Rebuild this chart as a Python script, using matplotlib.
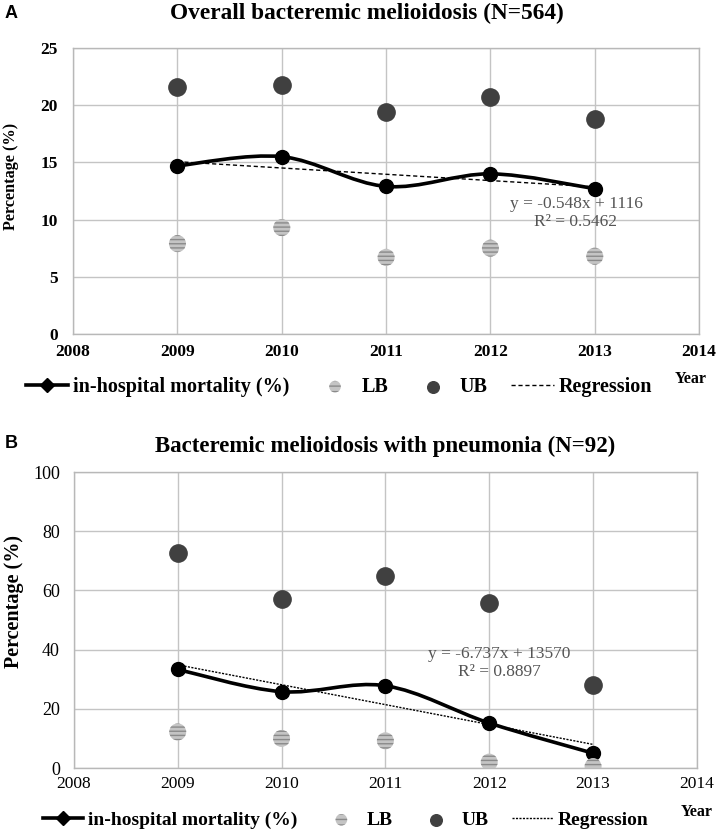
"""Bacteremic melioidosis in-hospital mortality by year, two panels."""

import matplotlib
matplotlib.use("Agg")
import matplotlib.pyplot as plt
import numpy as np
from matplotlib.lines import Line2D
from matplotlib.path import Path
from matplotlib.patches import PathPatch

years = [2009, 2010, 2011, 2012, 2013]

# panel A: overall (N=564)
mort_a = [14.7, 15.5, 12.9, 14.0, 12.7]
lb_a = [7.9, 9.3, 6.7, 7.5, 6.8]
ub_a = [21.6, 21.8, 19.4, 20.7, 18.8]
eq_a = "y = -0.548x + 1116\nR² = 0.5462"

# panel B: with pneumonia (N=92)
mort_b = [33.3, 25.8, 27.8, 15.2, 5.0]
lb_b = [12.2, 10.0, 9.2, 2.0, 0.5]
ub_b = [72.8, 57.0, 65.0, 55.8, 28.0]
eq_b = "y = -6.737x + 13570\nR² = 0.8897"

SERIF = "Liberation Serif"


def smooth_path(x, y):
    """Excel-like smoothed line: cubic Bezier segments through the points."""
    pts = np.column_stack([x, y]).astype(float)
    ext = np.vstack([pts[0], pts, pts[-1]])
    verts = [pts[0]]
    codes = [Path.MOVETO]
    for i in range(len(pts) - 1):
        p0, p1, p2, p3 = ext[i], ext[i + 1], ext[i + 2], ext[i + 3]
        c1 = p1 + (p2 - p0) / 6.0
        c2 = p2 - (p3 - p1) / 6.0
        verts += [c1, c2, p2]
        codes += [Path.CURVE4] * 3
    return Path(verts, codes)


def draw_panel(ax, mort, lb, ub, ymax, ystep, eq_text, eq_xy, tick_weight,
               tick_size, label_size, reg_dash, legend_xy, legend_size,
               year_xy):
    ax.set_xlim(2008, 2014)
    ax.set_ylim(0, ymax)
    ax.set_xticks(range(2008, 2015))
    ax.set_yticks(np.arange(0, ymax + 0.1, ystep))
    ax.grid(True, color="#c4c4c4", linewidth=1.0)
    ax.set_axisbelow(True)
    for sp in ax.spines.values():
        sp.set_color("#b8b8b8")
        sp.set_linewidth(1.0)
    ax.tick_params(length=0)

    # regression line from least-squares fit
    slope, icpt = np.polyfit(years, mort, 1)
    xr = np.array([years[0], years[-1]])
    ax.plot(xr, slope * xr + icpt, color="black", linewidth=1.0,
            dashes=reg_dash, zorder=3)

    ax.add_patch(PathPatch(smooth_path(years, mort), fill=False,
                           edgecolor="black", linewidth=2.6, zorder=4))
    ax.plot(years, mort, linestyle="none", marker="o", markersize=10,
            color="black", zorder=5)

    ax.scatter(years, lb, s=150, facecolor="#c4c4c4", edgecolor="#8a8a8a",
               linewidth=0, hatch="----", zorder=5)
    ax.scatter(years, ub, s=155, color="#404040", zorder=5)

    ax.text(eq_xy[0], eq_xy[1], eq_text, ha="center", va="center",
            fontsize=12.5, family=SERIF, color="#555555", linespacing=1.15,
            zorder=6)

    for lab in ax.get_xticklabels():
        lab.set_family(SERIF)
        lab.set_fontsize(12.5)
        lab.set_fontweight(tick_weight)
    for lab in ax.get_yticklabels():
        lab.set_family(SERIF)
        lab.set_fontsize(tick_size)
        lab.set_fontweight(tick_weight)
    ax.set_ylabel("Percentage (%)", family=SERIF, fontsize=label_size,
                  fontweight="bold")

    handles = [
        Line2D([], [], color="black", linewidth=2.6, marker="D",
               markersize=7),
        ax.scatter([], [], s=70, facecolor="#c4c4c4", edgecolor="#8a8a8a",
                   linewidth=0, hatch="---"),
        ax.scatter([], [], s=70, color="#404040"),
        Line2D([], [], color="black", linewidth=1.0, dashes=reg_dash),
    ]
    ax.legend(handles, ["in-hospital mortality (%)", "LB", "UB", "Regression"],
              loc="center", bbox_to_anchor=legend_xy, ncol=4, frameon=False,
              prop={"family": SERIF, "size": legend_size, "weight": "bold"},
              handlelength=2.1, handletextpad=0.25, columnspacing=1.2)
    ax.text(year_xy[0], year_xy[1], "Year", transform=ax.transAxes,
            ha="center", va="center", family=SERIF, fontsize=11.5,
            fontweight="bold")


fig = plt.figure(figsize=(7.17, 8.34), dpi=100)

ax_a = fig.add_axes([0.102, 0.5995, 0.873, 0.343])
draw_panel(ax_a, mort_a, lb_a, ub_a, 25, 5, eq_a, (2012.82, 10.6), "bold",
           12.5, 11.7, (3, 2), (0.425, -0.185), 14.5, (0.986, -0.157))
ax_a.tick_params(axis="y", pad=11)
ax_a.tick_params(axis="x", pad=7)
ax_a.yaxis.set_label_coords(-0.086, 0.55)

ax_b = fig.add_axes([0.103, 0.0791, 0.869, 0.3549])
draw_panel(ax_b, mort_b, lb_b, ub_b, 100, 20, eq_b, (2012.1, 35.4), "normal",
           13, 14.5, (1.5, 1), (0.436, -0.176), 14, (1.0, -0.149))
ax_b.tick_params(axis="y", pad=10)
ax_b.tick_params(axis="x", pad=5.5)
ax_b.yaxis.set_label_coords(-0.08, 0.564)

fig.text(0.511, 0.984, "Overall bacteremic melioidosis (N=564)", ha="center",
         va="center", family=SERIF, fontsize=16.8, fontweight="bold")
fig.text(0.537, 0.465, "Bacteremic melioidosis with pneumonia (N=92)",
         ha="center", va="center", family=SERIF, fontsize=16.5,
         fontweight="bold")
fig.text(0.007, 0.984, "A", ha="left", va="center", family="Liberation Sans",
         fontsize=13, fontweight="bold")
fig.text(0.007, 0.468, "B", ha="left", va="center", family="Liberation Sans",
         fontsize=13, fontweight="bold")

fig.savefig("out.png", dpi=100)
